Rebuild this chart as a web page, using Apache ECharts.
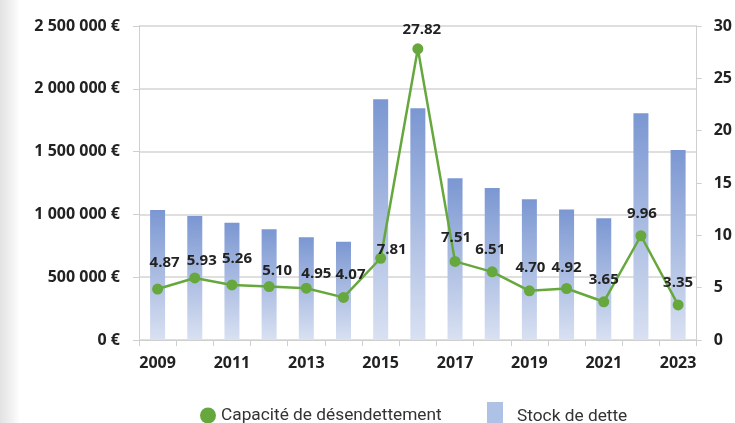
<!DOCTYPE html>
<html>
<head>
<meta charset="utf-8">
<script src="https://cdn.jsdelivr.net/npm/echarts@6/dist/echarts.min.js"></script>
<style>
html,body{margin:0;padding:0;background:#fff;}
#c{width:735px;height:423px;}
</style>
</head>
<body>
<div id="c"></div>
<script>
const years = ['2009','2010','2011','2012','2013','2014','2015','2016','2017','2018','2019','2020','2021','2022','2023'];
const stockDette = [1035000, 987000, 934000, 881000, 818000, 783000, 1916000, 1845000, 1287000, 1210000, 1120000, 1040000, 969000, 1805000, 1513000];
const capacite = [4.87, 5.93, 5.26, 5.10, 4.95, 4.07, 7.81, 27.82, 7.51, 6.51, 4.70, 4.92, 3.65, 9.96, 3.35];
const seriesNames = ['Capacité de désendettement', 'Stock de dette'];

// label nudges (style only)
const labelNudge = [[7,-4],[7,5],[5,-4],[8,6],[10,8],[7,-1],[11,13],[4,3],[1,-2],[-2,0],[1,-1],[0,1],[0,0],[1,0],[0,0]];

const fmtEuro = v => String(v).replace(/\B(?=(\d{3})+(?!\d))/g, ' ') + ' €';
const green = '#67a83e';
const axisFont = {fontFamily:'Open Sans', fontWeight:'bold', fontSize:16, color:'#222'};

const chart = echarts.init(document.getElementById('c'), null, {renderer:'canvas'});
chart.setOption({
  backgroundColor:'#ffffff',
  animation:false,
  graphic:[{
    type:'rect', left:0, top:0, z:-10,
    shape:{x:0,y:0,width:20,height:423},
    style:{fill:new echarts.graphic.LinearGradient(0,0,1,0,[{offset:0,color:'#e2e2e2'},{offset:0.6,color:'#f2f2f2'},{offset:1,color:'#ffffff'}])},
    silent:true
  }],
  grid:{left:139, right:35, top:26, bottom:83, containLabel:false},
  legend:[{
    data:[{name:seriesNames[0], icon:'circle'}],
    left:195, top:402, itemWidth:16, itemHeight:16, itemGap:6,
    textStyle:{fontFamily:'Roboto', fontSize:17.3, color:'#333', padding:[0,0,0,0]}
  },{
    data:[{name:seriesNames[1], icon:'rect', itemStyle:{color:'#aec2e6'}}],
    left:482, top:397, itemWidth:16, itemHeight:30,
    textStyle:{fontFamily:'Roboto', fontSize:17.3, color:'#333', padding:[0,0,0,9]}
  }],
  xAxis:{
    type:'category', data:years, boundaryGap:true,
    axisLine:{lineStyle:{color:'#cfcfcf', width:1}},
    axisTick:{show:true, interval:0, length:6, lineStyle:{color:'#cfcfcf'}},
    axisLabel:Object.assign({interval:1, margin:15}, axisFont)
  },
  yAxis:[{
    type:'value', min:0, max:2500000, interval:500000,
    axisLine:{show:true, lineStyle:{color:'#cfcfcf'}},
    axisTick:{show:true, length:6, lineStyle:{color:'#cfcfcf'}},
    splitLine:{lineStyle:{color:'#d4d4d4', width:1.5}},
    axisLabel:Object.assign({margin:19, formatter:fmtEuro}, axisFont)
  },{
    type:'value', min:0, max:30, interval:5, position:'right',
    axisLine:{show:true, lineStyle:{color:'#cfcfcf'}},
    axisTick:{show:true, length:5, lineStyle:{color:'#cfcfcf'}},
    splitLine:{show:false},
    axisLabel:Object.assign({margin:17, align:'left'}, axisFont)
  }],
  series:[{
    name:seriesNames[1], type:'bar', yAxisIndex:0, barWidth:15, z:1,
    data:stockDette,
    itemStyle:{color:new echarts.graphic.LinearGradient(0,0,0,1,[{offset:0,color:'#7b97d2'},{offset:1,color:'#d9e1f2'}])}
  },{
    name:seriesNames[0], type:'line', yAxisIndex:1, z:5,
    data:capacite.map((v,i)=>({value:v, label:{offset:labelNudge[i]}})),
    symbol:'circle', symbolSize:11,
    lineStyle:{color:green, width:2.5},
    itemStyle:{color:green},
    label:{show:true, position:'top', distance:9, formatter:p=>p.value.toFixed(2),
      fontFamily:'Open Sans', fontWeight:'bold', fontSize:15, color:'#222'}
  }]
});
</script>
</body>
</html>
